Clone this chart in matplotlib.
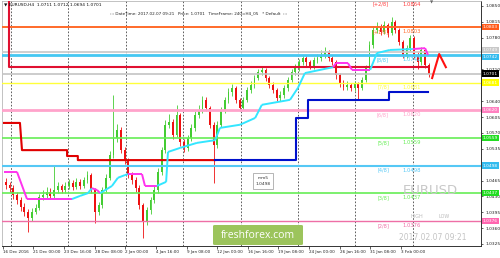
import matplotlib.pyplot as plt
from matplotlib.patches import FancyBboxPatch
import matplotlib.transforms as mtransforms

# EURUSD H4, one candle per 8 hours (approximation of the screenshot)
first_open = 1.0462
closes = [1.0455, 1.0449, 1.0433, 1.0422, 1.0407, 1.0396, 1.0382, 1.0396, 1.0404, 1.0429,
          1.0433, 1.0440, 1.0431, 1.0444, 1.0453, 1.0444, 1.0453, 1.0460, 1.0451, 1.0462,
          1.0453, 1.0466, 1.0477, 1.0444, 1.0396, 1.0411, 1.0444, 1.0471, 1.0521, 1.0559,
          1.0576, 1.0532, 1.0510, 1.0477, 1.0466, 1.0449, 1.0411, 1.0374, 1.0400, 1.0422,
          1.0444, 1.0484, 1.0532, 1.0588, 1.0594, 1.0565, 1.0610, 1.0550, 1.0537, 1.0559,
          1.0581, 1.0610, 1.0621, 1.0643, 1.0625, 1.0588, 1.0543, 1.0588, 1.0621, 1.0643,
          1.0660, 1.0669, 1.0643, 1.0625, 1.0643, 1.0665, 1.0676, 1.0691, 1.0704, 1.0709,
          1.0691, 1.0676, 1.0665, 1.0647, 1.0654, 1.0669, 1.0687, 1.0704, 1.0713, 1.0726,
          1.0735, 1.0726, 1.0718, 1.0731, 1.0735, 1.0742, 1.0749, 1.0735, 1.0726, 1.0698,
          1.0680, 1.0671, 1.0676, 1.0669, 1.0678, 1.0669, 1.0687, 1.0713, 1.0764, 1.0797,
          1.0804, 1.0793, 1.0808, 1.0790, 1.0815, 1.0797, 1.0771, 1.0742, 1.0757, 1.0779,
          1.0742, 1.0726, 1.0753, 1.0720, 1.0701]
highs = [1.0470, 1.0462, 1.0455, 1.0440, 1.0428, 1.0415, 1.0402, 1.0404, 1.0414, 1.0436,
         1.0445, 1.0450, 1.0448, 1.0500, 1.0462, 1.0458, 1.0461, 1.0468, 1.0466, 1.0470,
         1.0468, 1.0473, 1.0486, 1.0482, 1.0449, 1.0418, 1.0450, 1.0480, 1.0530, 1.0654,
         1.0590, 1.0582, 1.0540, 1.0515, 1.0484, 1.0472, 1.0455, 1.0416, 1.0406, 1.0428,
         1.0452, 1.0492, 1.0540, 1.0598, 1.0612, 1.0600, 1.0632, 1.0615, 1.0556, 1.0566,
         1.0590, 1.0618, 1.0632, 1.0652, 1.0650, 1.0630, 1.0594, 1.0596, 1.0628, 1.0650,
         1.0668, 1.0678, 1.0674, 1.0648, 1.0650, 1.0672, 1.0684, 1.0698, 1.0712, 1.0718,
         1.0714, 1.0696, 1.0682, 1.0670, 1.0662, 1.0675, 1.0694, 1.0710, 1.0722, 1.0734,
         1.0742, 1.0740, 1.0731, 1.0738, 1.0744, 1.0752, 1.0760, 1.0754, 1.0740, 1.0731,
         1.0702, 1.0686, 1.0684, 1.0681, 1.0685, 1.0683, 1.0694, 1.0720, 1.0772, 1.0806,
         1.0815, 1.0810, 1.0816, 1.0812, 1.0826, 1.0820, 1.0802, 1.0776, 1.0764, 1.0786,
         1.0784, 1.0748, 1.0760, 1.0758, 1.0724]
lows = [1.0446, 1.0440, 1.0425, 1.0414, 1.0398, 1.0386, 1.0351, 1.0375, 1.0390, 1.0400,
        1.0422, 1.0427, 1.0424, 1.0426, 1.0438, 1.0437, 1.0438, 1.0447, 1.0444, 1.0446,
        1.0447, 1.0449, 1.0460, 1.0438, 1.0371, 1.0388, 1.0405, 1.0440, 1.0466, 1.0515,
        1.0550, 1.0525, 1.0502, 1.0470, 1.0458, 1.0440, 1.0402, 1.0338, 1.0366, 1.0392,
        1.0415, 1.0438, 1.0478, 1.0526, 1.0580, 1.0556, 1.0560, 1.0542, 1.0528, 1.0530,
        1.0552, 1.0575, 1.0602, 1.0615, 1.0618, 1.0580, 1.0460, 1.0536, 1.0582, 1.0615,
        1.0636, 1.0652, 1.0636, 1.0618, 1.0620, 1.0638, 1.0658, 1.0670, 1.0686, 1.0698,
        1.0684, 1.0669, 1.0658, 1.0640, 1.0641, 1.0648, 1.0663, 1.0682, 1.0698, 1.0707,
        1.0720, 1.0718, 1.0711, 1.0712, 1.0725, 1.0729, 1.0736, 1.0728, 1.0719, 1.0690,
        1.0672, 1.0664, 1.0665, 1.0662, 1.0663, 1.0643, 1.0664, 1.0682, 1.0708, 1.0758,
        1.0790, 1.0786, 1.0788, 1.0782, 1.0785, 1.0790, 1.0764, 1.0735, 1.0736, 1.0750,
        1.0735, 1.0712, 1.0720, 1.0714, 1.0694]
opens = [first_open] + closes[:-1]

# Murrey math levels
level_names = ["[+2/8]", "[+1/8]", "[8/8]", "[7/8]", "[6/8]", "[5/8]", "[4/8]", "[3/8]", "[2/8]"]
level_values = [1.0864, 1.0803, 1.0742, 1.0681, 1.0620, 1.0559, 1.0498, 1.0437, 1.0376]
level_colors = ["#ff3b3b", "#ff6a2a", "#45c8f2", "#ffff3a", "#ffa3cb", "#66ee55", "#55c8f5", "#66ee55", "#ee6fa6"]
level_widths = [1.2, 1.4, 2.0, 1.0, 2.0, 1.2, 1.5, 1.2, 1.0]

# right axis price boxes (value, colour, small vertical nudge in points)
box_values = [1.0803, 1.0749, 1.0742, 1.0701, 1.0681, 1.0620, 1.0559, 1.0498, 1.0437, 1.0376]
box_colors = ["#ff5a1a", "#c8c8c8", "#33bbee", "#000000", "#ffff00", "#ff80c0", "#22dd22", "#33bbee", "#22dd22", "#ff66b0"]
box_nudge = [0, 1.3, -1.3, 0, 0, 0, 0, 0, 0, 0]

# step lines
red_hi_x = [0.85, 0.85, 113.8]
red_hi_y = [1.0870, 1.0715, 1.0715]
red_lo_x = [-0.5, 3.8, 4.35, 16.5, 16.5, 19.4, 19.4, 56.4]
red_lo_y = [1.0592, 1.0592, 1.0532, 1.0532, 1.0519, 1.0519, 1.0510, 1.0510]
blue_x = [56.4, 78.2, 78.2, 81.4, 81.4, 103.3, 103.3, 113.8]
blue_y = [1.0510, 1.0510, 1.0603, 1.0603, 1.0643, 1.0643, 1.0660, 1.0660]

# trailing line, m = falling (magenta), c = rising (cyan)
trail_x = [-0.5, 3.0, 5.7, 17.8, 20.0, 22.1, 23.2, 24.6, 25.4, 28.6, 30.2, 32.1, 32.9, 36.7,
           37.5, 40.7, 43.2, 43.7, 47.0, 51.5, 56.4, 57.7, 63.1, 67.2, 69.0, 76.6, 78.7, 80.6,
           88.2, 89.0, 92.2, 93.3, 98.2, 100.0, 103.5, 109.7, 113.0, 113.8]
trail_y = [1.0484, 1.0484, 1.0424, 1.0424, 1.0431, 1.0437, 1.0448, 1.0444, 1.0437, 1.0453,
           1.0471, 1.0477, 1.0479, 1.0479, 1.0453, 1.0453, 1.0462, 1.0528, 1.0537, 1.0548,
           1.0554, 1.0581, 1.0588, 1.0603, 1.0632, 1.0643, 1.0669, 1.0702, 1.0715, 1.0724,
           1.0724, 1.0709, 1.0709, 1.0746, 1.0753, 1.0755, 1.0757, 1.0742]
trail_dir = "mmmcccmmccccmmmcccccccccccccmmmmcccmm"

# forecast zigzag
zig_x = [114.9, 116.8, 118.6]
zig_y = [1.0691, 1.0744, 1.0715]

tick_labels = ["16 Dec 2016", "21 Dec 00:00", "23 Dec 16:00", "28 Dec 08:00", "2 Jan 00:00",
               "4 Jan 16:00", "9 Jan 08:00", "12 Jan 00:00", "16 Jan 16:00", "19 Jan 08:00",
               "24 Jan 00:00", "26 Jan 16:00", "31 Jan 08:00", "3 Feb 00:00"]
price_ticks = [1.0325, 1.0360, 1.0395, 1.0430, 1.0465, 1.0500, 1.0535, 1.0570, 1.0605,
               1.0640, 1.0675, 1.0710, 1.0745, 1.0780, 1.0815, 1.0850]
hidden_ticks = [1.0500, 1.0675, 1.0745]  # covered by the price boxes

fig = plt.figure(figsize=(5.0, 2.58), dpi=100)
ax = fig.add_axes([2 / 500, 1 - 246 / 258, 479 / 500, 245 / 258])
ax.set_xlim(-1.04, 128.07)
ax.set_ylim(1.03205, 1.08610)

# dashed vertical grid
for k in range(8):
    ax.axvline(1.4 + 15.47 * k, color="#444444", lw=0.6, ls=(0, (2, 2)), zorder=1)

# candles
bull = "#44cc33"
bear = "#ee1111"
for i in range(len(closes)):
    o, c = opens[i], closes[i]
    col = bull if c >= o else bear
    ax.vlines(i, lows[i], highs[i], color=col, lw=0.6, zorder=2)
    ax.bar(i, max(abs(c - o), 0.00008), bottom=min(o, c), width=0.5, color=col, lw=0, zorder=2)

# gray lines (ask/bid area and current price)
ax.axhline(1.0749, color="#cccccc", lw=1.3, zorder=3)
ax.axhline(1.0701, color="#c4c4c4", lw=1.2, zorder=3)

# levels
for name, v, col, w in zip(level_names, level_values, level_colors, level_widths):
    ax.axhline(v, color=col, lw=w, zorder=3)
    ax.annotate(name, (103.3, v), xytext=(0, -1.5), textcoords="offset points",
                ha="right", va="top", fontsize=3.6, color=col, zorder=6, annotation_clip=False)
    ax.annotate(f"{v:.4f}", (106.8, v), xytext=(0, -1.5), textcoords="offset points",
                ha="left", va="top", fontsize=3.8, color=col, zorder=6, annotation_clip=False)

# indicator lines
ax.plot(red_hi_x, red_hi_y, color="#e01030", lw=1.5, zorder=4)
ax.plot(red_lo_x, red_lo_y, color="#e00000", lw=1.5, zorder=4)
ax.plot(blue_x, blue_y, color="#0010cc", lw=1.5, zorder=4)
for k, d in enumerate(trail_dir):
    ax.plot(trail_x[k:k + 2], trail_y[k:k + 2], color="#ff33ee" if d == "m" else "#33e6ff",
            lw=1.4, solid_capstyle="butt", zorder=5)
ax.plot(zig_x, zig_y, color="#ff1111", lw=1.5, zorder=5)

# axes styling
for s in ["top", "left"]:
    ax.spines[s].set_color("#aaaaaa")
    ax.spines[s].set_linewidth(0.5)
for s in ["right", "bottom"]:
    ax.spines[s].set_color("#333333")
    ax.spines[s].set_linewidth(0.7)
ax.yaxis.tick_right()
ax.set_yticks(price_ticks)
ax.set_yticklabels(["" if t in hidden_ticks else f"{t:.4f}" for t in price_ticks])
ax.tick_params(axis="y", labelsize=3.2, length=1.5, width=0.5, pad=1.5, colors="#222222")
ax.set_xticks([-0.8 + 8.25 * k for k in range(len(tick_labels))])
ax.set_xticklabels(tick_labels)
ax.tick_params(axis="x", labelsize=3.0, length=2, width=0.5, pad=1.2, colors="#222222")
for lab in ax.get_xticklabels():
    lab.set_ha("left")

# price boxes on the right axis
trans = mtransforms.blended_transform_factory(ax.transAxes, ax.transData)
for v, col, dy in zip(box_values, box_colors, box_nudge):
    ax.annotate(f"{v:.4f}", (1.004, v), xycoords=trans, xytext=(0, dy), textcoords="offset points",
                fontsize=3.2, color="white", ha="left", va="center", annotation_clip=False,
                zorder=10, bbox=dict(boxstyle="square,pad=0.25", fc=col, ec="none"))

# header texts
fig.text(4 / 500, 1 - 5 / 258, "\u25bc EURUSD,H4  1.0711 1.0712 1.0694 1.0701",
         fontsize=3.2, color="#111111", va="center")
fig.text(110 / 500, 1 - 13 / 258,
         "::: DateTime: 2017.02.07 09:21   Price: 1.0701   TimeFrame: 240=H4_05   * Default  :::",
         fontsize=3.0, color="#222222", va="center")
fig.text(432 / 500, 1 - 3 / 258, "\u25bc", fontsize=3, color="#666666", ha="center", va="center")

# small info box
ax.text(261 / 479, (246 - 181) / 245, "mm5\n1.0498", transform=ax.transAxes,
        fontsize=3.2, color="#333333", ha="center", va="center", linespacing=1.6, zorder=7,
        bbox=dict(boxstyle="square,pad=0.6", fc="white", ec="#999999", lw=0.5))

# watermark texts
fig.text(430 / 500, 1 - 190 / 258, "EURUSD", fontsize=9.5, color="#c8c8c8", ha="center", va="center")
fig.text(417 / 500, 1 - 216 / 258, "HIGH", fontsize=3.5, color="#bbbbbb", ha="center", va="center")
fig.text(444 / 500, 1 - 216 / 258, "LOW", fontsize=3.5, color="#bbbbbb", ha="center", va="center")
fig.text(433 / 500, 1 - 238 / 258, "2017.02.07 09:21", fontsize=5.5, color="#c4c4c4", ha="center", va="center")

# freshforex logo
logo = FancyBboxPatch((213 / 500, 1 - 245 / 258), 90 / 500, 20 / 258,
                      boxstyle="round,pad=0,rounding_size=0.004", transform=fig.transFigure,
                      fc="#9cc45c", ec="none", zorder=20)
fig.patches.append(logo)
fig.text(258 / 500, 1 - 235 / 258, "freshforex.com", fontsize=7.5, color="white",
         ha="center", va="center", zorder=21, family="Open Sans")

fig.savefig("out.png", dpi=100)
